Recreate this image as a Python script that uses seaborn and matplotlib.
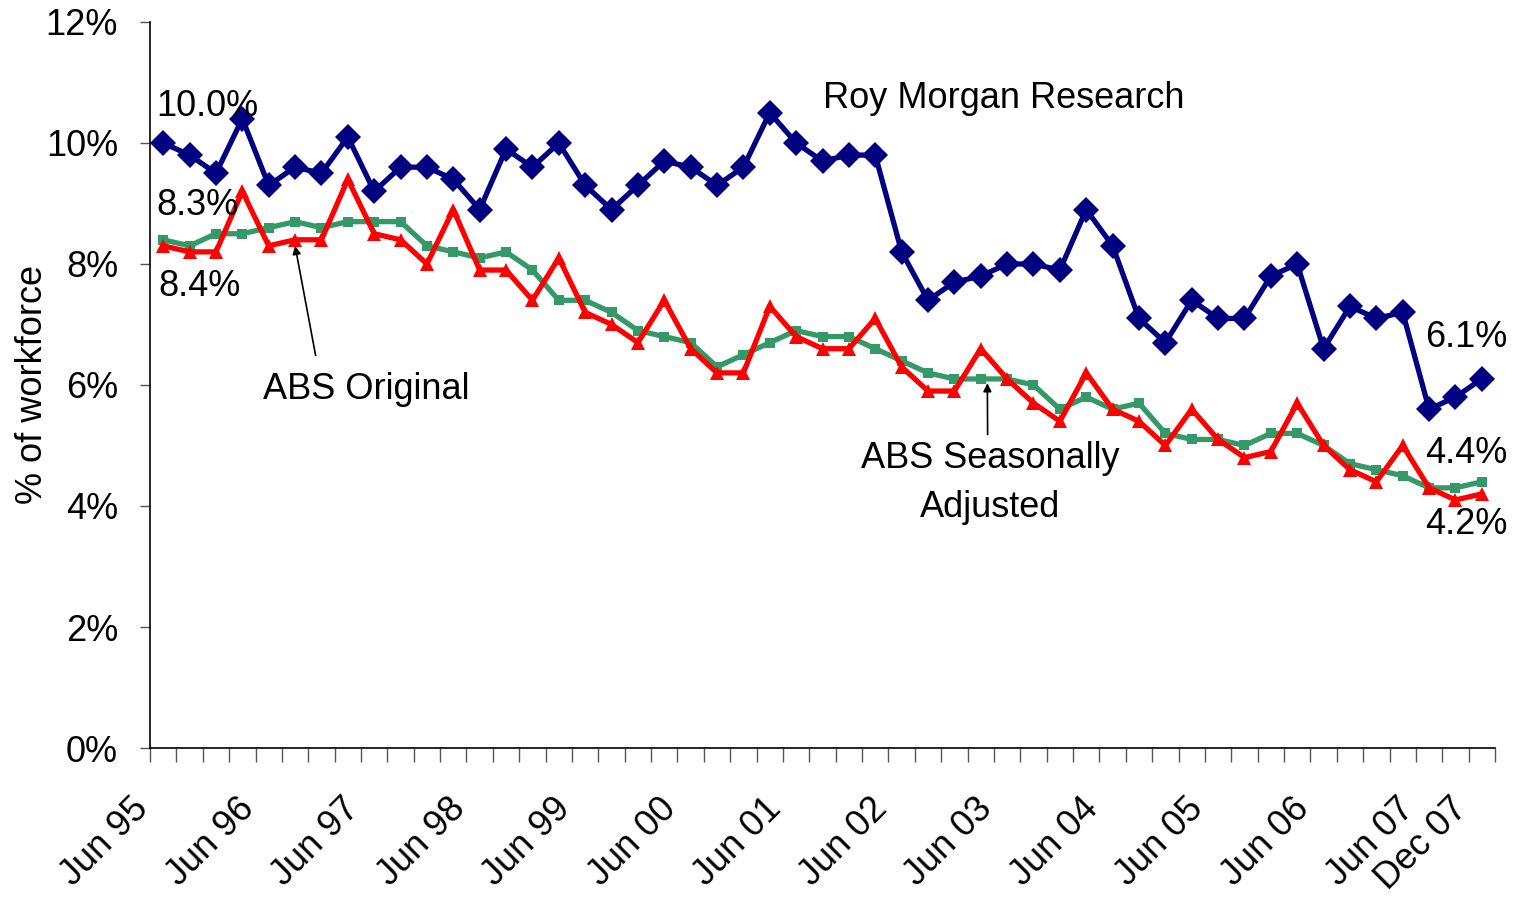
import seaborn as sns
import matplotlib.pyplot as plt
import matplotlib.transforms as mtransforms
import pandas as pd
from matplotlib.ticker import FuncFormatter

# quarterly, Jun 95 .. Dec 07
quarters = []
for y in range(1995, 2008):
    for m in ['Mar', 'Jun', 'Sep', 'Dec']:
        quarters.append(f'{m} {y % 100:02d}')
quarters = quarters[1:52]

roy_morgan = [10.0, 9.8, 9.5, 10.4, 9.3, 9.6, 9.5, 10.1, 9.2, 9.6, 9.6, 9.4, 8.9, 9.9, 9.6, 10.0,
              9.3, 8.9, 9.3, 9.7, 9.6, 9.3, 9.6, 10.5, 10.0, 9.7, 9.8, 9.8, 8.2, 7.4, 7.7, 7.8,
              8.0, 8.0, 7.9, 8.9, 8.3, 7.1, 6.7, 7.4, 7.1, 7.1, 7.8, 8.0, 6.6, 7.3, 7.1, 7.2,
              5.6, 5.8, 6.1]
abs_original = [8.3, 8.2, 8.2, 9.2, 8.3, 8.4, 8.4, 9.4, 8.5, 8.4, 8.0, 8.9, 7.9, 7.9, 7.4, 8.1,
                7.2, 7.0, 6.7, 7.4, 6.6, 6.2, 6.2, 7.3, 6.8, 6.6, 6.6, 7.1, 6.3, 5.9, 5.9, 6.6,
                6.1, 5.7, 5.4, 6.2, 5.6, 5.4, 5.0, 5.6, 5.1, 4.8, 4.9, 5.7, 5.0, 4.6, 4.4, 5.0,
                4.3, 4.1, 4.2]
abs_seasonal = [8.4, 8.3, 8.5, 8.5, 8.6, 8.7, 8.6, 8.7, 8.7, 8.7, 8.3, 8.2, 8.1, 8.2, 7.9, 7.4,
                7.4, 7.2, 6.9, 6.8, 6.7, 6.3, 6.5, 6.7, 6.9, 6.8, 6.8, 6.6, 6.4, 6.2, 6.1, 6.1,
                6.1, 6.0, 5.6, 5.8, 5.6, 5.7, 5.2, 5.1, 5.1, 5.0, 5.2, 5.2, 5.0, 4.7, 4.6, 4.5,
                4.3, 4.3, 4.4]
label_idx = list(range(0, 49, 4)) + [50]

df = pd.DataFrame({'q': range(len(quarters)), 'roy': roy_morgan,
                   'orig': abs_original, 'seas': abs_seasonal})

sns.set_style('white')
plt.rcParams['font.family'] = ['Liberation Sans', 'DejaVu Sans']
plt.rcParams.update({'text.color': 'black', 'axes.labelcolor': 'black',
                     'xtick.color': 'black', 'ytick.color': 'black'})
FS = 26

fig = plt.figure(figsize=(15.17, 8.97), dpi=100)
ax = fig.add_axes([0.0989, 0.1661, 0.8866, 0.8094])

sns.lineplot(data=df, x='q', y='seas', ax=ax, color='#339966', lw=3.8,
             marker='s', markersize=7, markeredgewidth=0)
sns.lineplot(data=df, x='q', y='orig', ax=ax, color='#ff0000', lw=3.8,
             marker='^', markersize=10, markeredgewidth=0)
sns.lineplot(data=df, x='q', y='roy', ax=ax, color='#000080', lw=3.8,
             marker='D', markersize=13, markeredgewidth=0)

ax.set_xlim(-0.5, len(quarters) - 0.5)
ax.set_ylim(0, 12)
ax.set_yticks(range(0, 13, 2))
ax.yaxis.set_major_formatter(FuncFormatter(lambda v, p: f'{v:.0f}%'))
ax.tick_params(axis='y', direction='out', length=7, width=1, labelsize=FS, pad=16,
               left=True, color='#555555')

# tick marks between categories, labels on categories
ax.set_xticks([i - 0.5 for i in range(len(quarters) + 1)])
ax.set_xticklabels([])
ax.set_xticks(label_idx, minor=True)
ax.set_xticklabels([quarters[i] for i in label_idx], minor=True, rotation=45,
                   ha='right', va='center', rotation_mode='anchor', fontsize=FS)
ax.tick_params(axis='x', which='major', direction='out', length=10, width=1,
               color='#555555', bottom=True)
ax.tick_params(axis='x', which='minor', length=0, pad=40)
shift = mtransforms.ScaledTranslation(-0.2, 0, fig.dpi_scale_trans)
for lab in ax.get_xticklabels(minor=True):
    lab.set_transform(lab.get_transform() + shift)

for s in ['top', 'right']:
    ax.spines[s].set_visible(False)
for s in ['left', 'bottom']:
    ax.spines[s].set_color('black')
    ax.spines[s].set_linewidth(1.2)

ax.set_xlabel('')
ax.set_ylabel('% of workforce', fontsize=FS, labelpad=-3)

ax.text(31.86, 10.74, 'Roy Morgan Research', fontsize=FS, ha='center', va='center')
ax.annotate('ABS Original', xy=(5, 8.3), xytext=(7.7, 5.92), fontsize=FS, ha='center', va='center',
            arrowprops=dict(arrowstyle='-|>', color='black', lw=1.2, mutation_scale=12,
                            shrinkA=10, shrinkB=0, relpos=(0.27, 1.0)))
ax.annotate('ABS Seasonally\nAdjusted', xy=(31.25, 6.03), xytext=(31.36, 4.38), fontsize=FS,
            ha='center', va='center', linespacing=1.55,
            arrowprops=dict(arrowstyle='-|>', color='black', lw=1.2, mutation_scale=12,
                            shrinkA=2, shrinkB=0, relpos=(0.49, 1.0)))

ax.text(-0.27, 10.6, '10.0%', fontsize=FS, ha='left', va='center')
ax.text(-0.27, 8.97, '8.3%', fontsize=FS, ha='left', va='center')
ax.text(-0.2, 7.62, '8.4%', fontsize=FS, ha='left', va='center')
ax.text(47.84, 6.79, '6.1%', fontsize=FS, ha='left', va='center')
ax.text(47.84, 4.86, '4.4%', fontsize=FS, ha='left', va='center')
ax.text(47.84, 3.70, '4.2%', fontsize=FS, ha='left', va='center')

fig.savefig('out.png', dpi=100, facecolor='white')
